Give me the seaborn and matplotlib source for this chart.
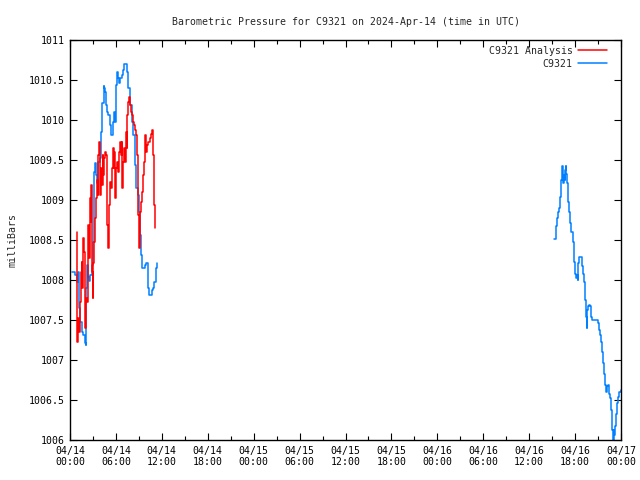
#!/usr/bin/env python3
"""
Barometric pressure for station C9321 (observations vs analysis), 3-day window.
"""
import numpy as np
import pandas as pd
import matplotlib
matplotlib.use('Agg')
import matplotlib.pyplot as plt
from matplotlib.lines import Line2D
from matplotlib.ticker import FuncFormatter, MultipleLocator
import seaborn as sns

# Data: hours since 2024-04-14 00:00 UTC, pressure in mb
obs_hours_1 = [0.30, 0.65, 0.87, 1.00, 1.18, 1.31, 1.52, 1.74, 1.96, 2.05, 2.13, 2.26,
               2.40, 2.53, 2.66, 2.83, 3.01, 3.09, 3.18, 3.27, 3.44, 3.53, 3.70, 3.88,
               4.05, 4.23, 4.40, 4.49, 4.57, 4.66, 4.83, 5.01, 5.18, 5.36, 5.53, 5.66,
               5.79, 5.88, 5.97, 6.05, 6.18, 6.32, 6.45, 6.58, 6.75, 6.93, 7.10, 7.32,
               7.45, 7.62, 7.84, 8.06, 8.28, 8.49, 8.67, 8.84, 9.02, 9.15, 9.28, 9.45,
               9.63, 9.80, 9.97, 10.15, 10.32, 10.50, 10.67, 10.89, 11.02, 11.19, 11.32]
obs_mb_1 = [1008.10, 1008.06, 1007.98, 1008.10, 1007.65, 1007.48, 1007.35, 1007.31,
            1007.21, 1007.19, 1007.90, 1008.19, 1008.04, 1007.99, 1008.06, 1008.19,
            1008.48, 1008.77, 1009.35, 1009.46, 1009.31, 1009.21, 1009.48, 1009.52,
            1009.85, 1010.21, 1010.42, 1010.40, 1010.35, 1010.19, 1010.10, 1010.06,
            1009.94, 1009.81, 1009.81, 1009.98, 1010.10, 1009.98, 1010.06, 1010.44,
            1010.60, 1010.52, 1010.46, 1010.52, 1010.56, 1010.63, 1010.70, 1010.70,
            1010.60, 1010.40, 1010.19, 1009.98, 1009.81, 1009.44, 1009.15, 1009.06,
            1008.85, 1008.56, 1008.31, 1008.15, 1008.15, 1008.19, 1008.21, 1007.90,
            1007.81, 1007.81, 1007.87, 1007.90, 1007.98, 1008.15, 1008.21]

obs_hours_2 = [63.29, 63.46, 63.55, 63.68, 63.81, 63.94, 64.07, 64.20, 64.29, 64.38,
               64.46, 64.55, 64.64, 64.72, 64.81, 64.85, 64.94, 65.03, 65.16, 65.25,
               65.38, 65.51, 65.68, 65.77, 65.90, 66.03, 66.16, 66.25, 66.34, 66.42,
               66.55, 66.73, 66.86, 66.94, 67.08, 67.21, 67.29, 67.42, 67.51, 67.60,
               67.73, 67.86, 67.99, 68.12, 68.25, 68.47, 68.69, 68.91, 69.04, 69.17,
               69.30, 69.43, 69.56, 69.69, 69.82, 69.95, 70.08, 70.21, 70.34, 70.47,
               70.60, 70.73, 70.87, 70.95, 71.04, 71.13, 71.26, 71.39, 71.52, 71.65,
               71.78, 71.95]
obs_mb_2 = [1008.51, 1008.56, 1008.67, 1008.77, 1008.85, 1008.90, 1009.04, 1009.25,
            1009.42, 1009.31, 1009.21, 1009.31, 1009.25, 1009.38, 1009.42, 1009.33,
            1009.21, 1008.98, 1008.94, 1008.85, 1008.71, 1008.60, 1008.60, 1008.48,
            1008.23, 1008.08, 1008.02, 1008.06, 1008.00, 1008.21, 1008.29, 1008.29,
            1008.25, 1008.17, 1008.08, 1007.98, 1007.75, 1007.54, 1007.40, 1007.62,
            1007.67, 1007.69, 1007.67, 1007.54, 1007.50, 1007.50, 1007.50, 1007.50,
            1007.46, 1007.38, 1007.31, 1007.23, 1007.10, 1006.96, 1006.83, 1006.69,
            1006.60, 1006.67, 1006.69, 1006.58, 1006.52, 1006.38, 1006.13, 1006.00,
            1006.13, 1006.06, 1006.17, 1006.33, 1006.46, 1006.54, 1006.60, 1006.62]

ana_hours = [0.87, 0.96, 1.09, 1.18, 1.31, 1.44, 1.52, 1.61, 1.74, 1.83, 1.96, 2.09,
             2.18, 2.31, 2.40, 2.48, 2.61, 2.70, 2.79, 2.87, 2.96, 3.05, 3.18, 3.27,
             3.40, 3.53, 3.61, 3.70, 3.79, 3.88, 3.96, 4.05, 4.14, 4.27, 4.36, 4.49,
             4.57, 4.70, 4.79, 4.88, 4.97, 5.05, 5.14, 5.23, 5.31, 5.44, 5.58, 5.71,
             5.79, 5.88, 5.97, 6.05, 6.18, 6.32, 6.40, 6.53, 6.66, 6.75, 6.84, 6.97,
             7.10, 7.23, 7.32, 7.40, 7.49, 7.62, 7.75, 7.88, 8.01, 8.14, 8.28, 8.41,
             8.54, 8.67, 8.80, 8.93, 9.02, 9.10, 9.23, 9.36, 9.49, 9.63, 9.76, 9.84,
             9.93, 10.06, 10.24, 10.41, 10.58, 10.71, 10.80, 10.89, 10.98, 11.06]
ana_mb = [1008.60, 1007.23, 1007.52, 1007.35, 1007.73, 1008.10, 1008.23, 1007.90,
          1008.52, 1008.35, 1007.40, 1007.77, 1007.73, 1008.35, 1008.69, 1008.27,
          1009.02, 1008.73, 1009.19, 1008.10, 1007.77, 1008.21, 1008.48, 1008.77,
          1009.02, 1009.25, 1009.06, 1009.56, 1009.73, 1009.35, 1009.06, 1009.40,
          1009.19, 1009.56, 1009.31, 1009.52, 1009.60, 1009.56, 1009.10, 1008.69,
          1008.40, 1008.69, 1008.94, 1009.23, 1009.15, 1009.40, 1009.65, 1009.40,
          1009.60, 1009.02, 1009.15, 1009.40, 1009.48, 1009.35, 1009.60, 1009.73,
          1009.56, 1009.73, 1009.15, 1009.48, 1009.65, 1009.48, 1009.85, 1009.65,
          1010.06, 1010.23, 1010.29, 1010.19, 1010.10, 1010.06, 1009.98, 1009.94,
          1009.88, 1009.81, 1009.56, 1008.81, 1008.40, 1008.85, 1008.98, 1009.10,
          1009.31, 1009.48, 1009.65, 1009.81, 1009.60, 1009.69, 1009.73, 1009.77,
          1009.83, 1009.88, 1009.85, 1009.56, 1008.94, 1008.65]

tick_hours = list(range(0, 73, 6))
tick_labels = ['04/14\n00:00', '04/14\n06:00', '04/14\n12:00', '04/14\n18:00',
               '04/15\n00:00', '04/15\n06:00', '04/15\n12:00', '04/15\n18:00',
               '04/16\n00:00', '04/16\n06:00', '04/16\n12:00', '04/16\n18:00',
               '04/17\n00:00']

ANA_NAME = 'C9321 Analysis'
OBS_NAME = 'C9321'
COLORS = {ANA_NAME: '#ff0000', OBS_NAME: '#0080ff'}
FONT_SIZE = 7.1


def build_frame():
    """Stack the series into one long table, one segment per unbroken run."""
    parts = [
        pd.DataFrame({'hour': ana_hours, 'mb': ana_mb, 'series': ANA_NAME, 'seg': 'a'}),
        pd.DataFrame({'hour': obs_hours_1, 'mb': obs_mb_1, 'series': OBS_NAME, 'seg': 'o1'}),
        pd.DataFrame({'hour': obs_hours_2, 'mb': obs_mb_2, 'series': OBS_NAME, 'seg': 'o2'}),
    ]
    return pd.concat(parts, ignore_index=True)


def main():
    sns.set_style('ticks')
    plt.rcParams['font.family'] = ['DejaVu Sans Mono']
    plt.rcParams['font.size'] = FONT_SIZE

    df = build_frame()

    fig = plt.figure(figsize=(6.4, 4.8), dpi=100)
    ax = fig.add_axes([70 / 640, 40 / 480, 551 / 640, 400 / 480])

    # observations first, analysis drawn on top
    sns.lineplot(data=df, x='hour', y='mb', hue='series', units='seg', estimator=None,
                 palette=COLORS, hue_order=[OBS_NAME, ANA_NAME], sort=False,
                 drawstyle='steps-post', linewidth=1.1, legend=False, ax=ax)

    ax.set_xlim(0, 72)
    ax.set_ylim(1006, 1011)
    ax.set_xticks(tick_hours)
    ax.set_xticklabels(tick_labels)
    ax.xaxis.set_minor_locator(MultipleLocator(3))
    ax.yaxis.set_major_locator(MultipleLocator(0.5))
    ax.yaxis.set_major_formatter(FuncFormatter(lambda v, _: '%g' % v))
    ax.tick_params(which='both', direction='in', top=True, right=True, colors='black',
                   labelsize=FONT_SIZE)
    ax.tick_params(which='major', length=5, width=0.8, pad=4)
    ax.tick_params(which='minor', length=3, width=0.8)
    for s in ax.spines.values():
        s.set_linewidth(1.0)
        s.set_color('black')

    ax.set_xlabel('')
    ax.set_ylabel('milliBars', labelpad=8, fontsize=FONT_SIZE)
    ax.set_title('Barometric Pressure for C9321 on 2024-Apr-14 (time in UTC)',
                 pad=11, fontsize=FONT_SIZE)

    handles = [Line2D([], [], color=COLORS[ANA_NAME], lw=1.1),
               Line2D([], [], color=COLORS[OBS_NAME], lw=1.1)]
    ax.legend(handles, [ANA_NAME, OBS_NAME], loc='upper right', frameon=False,
              bbox_to_anchor=(0.982, 0.995), markerfirst=False, handlelength=3.0,
              handletextpad=0.5, labelspacing=0.3, borderaxespad=0.0,
              fontsize=FONT_SIZE)

    fig.savefig('out.png', dpi=100)
    plt.close(fig)


if __name__ == '__main__':
    main()
